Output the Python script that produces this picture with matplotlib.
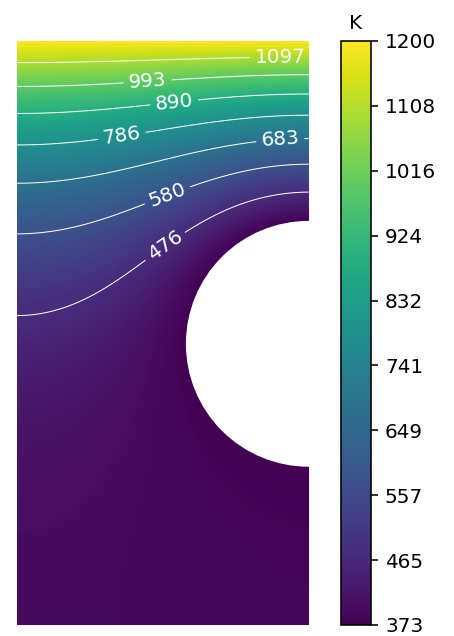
import numpy as np
import matplotlib
matplotlib.use("Agg")
import matplotlib.pyplot as plt
from matplotlib.patches import Circle

# ---- geometry of the plate (model units) ----
plate_width = 1.0
plate_height = 2.0
hole_center = (1.0, 0.963)
hole_radius = 0.421

# ---- thermal data (K) ----
T_hole = 373.0          # cooled hole surface
T_top = 1200.0          # heated top edge
# conductivity k(T) ~ 1/T  (steady state, other edges insulated)

# ---- contour levels and colorbar ticks (K) ----
contour_levels = [476.375, 579.75, 683.125, 786.5, 889.875, 993.25, 1096.625]
cbar_ticks = [373, 465, 557, 649, 741, 832, 924, 1016, 1108, 1200]

# label anchor positions (model units)
label_pos = [(0.901, 1.942), (0.449, 1.842), (0.541, 1.771), (0.363, 1.651),
             (0.901, 1.685), (0.510, 1.486), (0.476, 1.342)]

# ---- steady conduction solve (Kirchhoff variable u = ln T is harmonic) ----
nx, ny = 101, 201
x = np.linspace(0, plate_width, nx)
y = np.linspace(0, plate_height, ny)
X, Y = np.meshgrid(x, y)
hole = (X - hole_center[0]) ** 2 + (Y - hole_center[1]) ** 2 <= hole_radius ** 2
fixed = hole.copy()
fixed[-1, :] = True
u_top, u_hole = np.log(T_top), np.log(T_hole)
u = u_hole + (u_top - u_hole) * np.clip((Y - 0.5) / 1.5, 0, 1)
u[hole] = u_hole
u[-1, :] = u_top
I, J = np.indices(u.shape)
red = ((I + J) % 2 == 0) & ~fixed
black = ((I + J) % 2 == 1) & ~fixed
omega = 1.96
for _ in range(3000):
    for m in (red, black):
        P = np.pad(u, 1, mode="reflect")
        avg = 0.25 * (P[:-2, 1:-1] + P[2:, 1:-1] + P[1:-1, :-2] + P[1:-1, 2:])
        u[m] += omega * (avg[m] - u[m])
T = np.exp(u)

# ---- plot ----
dpi = 144
fig = plt.figure(figsize=(454 / dpi, 636 / dpi), dpi=dpi)
ax = fig.add_axes([17 / 454, 11 / 636, 291.7 / 454, 584 / 636])
mesh = ax.pcolormesh(X, Y, T, cmap="viridis", vmin=T_hole, vmax=T_top,
                     shading="gouraud")
cs = ax.contour(X, Y, T, levels=contour_levels, colors="white", linewidths=0.5)
ax.clabel(cs, fmt="%.0f", fontsize=10, inline=True, manual=label_pos)
ax.add_patch(Circle(hole_center, hole_radius, facecolor="white",
                    edgecolor="none", zorder=5))
ax.set_xlim(0, plate_width)
ax.set_ylim(0, plate_height)
ax.set_aspect("auto")
ax.axis("off")

cax = fig.add_axes([341 / 454, 11 / 636, 30 / 454, 584 / 636])
cb = fig.colorbar(mesh, cax=cax, ticks=cbar_ticks)
cb.ax.set_yticklabels([str(t) for t in cbar_ticks])
cb.ax.tick_params(labelsize=10)
cax.set_title("K", fontsize=10)

fig.savefig("out.png", dpi=dpi)
